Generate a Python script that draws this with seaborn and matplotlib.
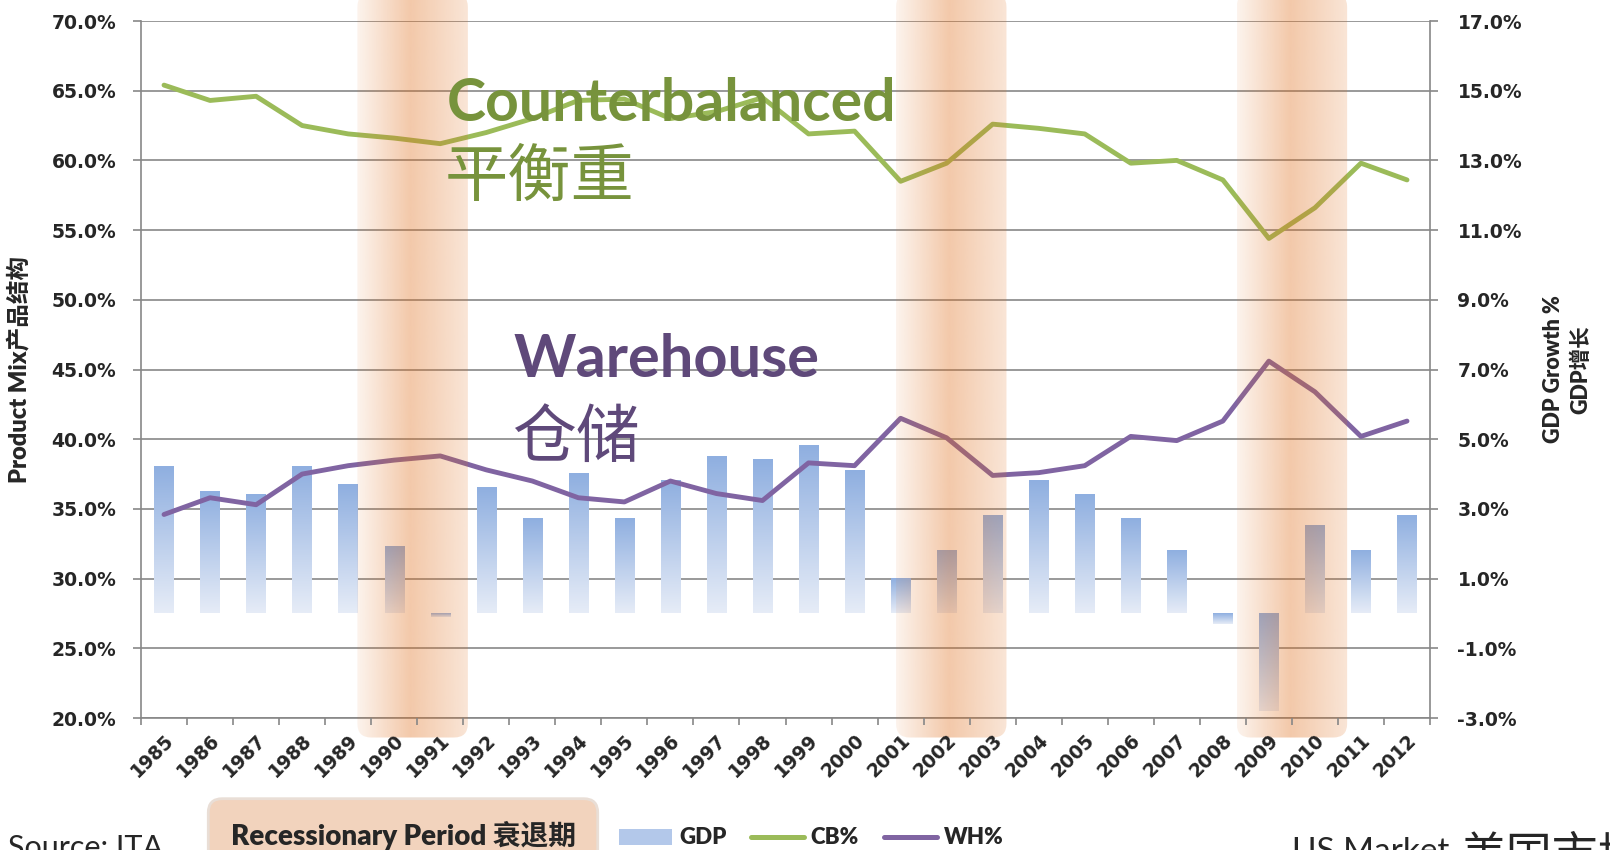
import numpy as np
import pandas as pd
import matplotlib
matplotlib.use("Agg")
import matplotlib.pyplot as plt
import seaborn as sns
from matplotlib.patches import FancyBboxPatch, Patch
from matplotlib.lines import Line2D
from matplotlib.colors import to_rgb

# values
years = list(range(1985, 2013))
cb_share = [65.4, 64.3, 64.6, 62.5, 61.9, 61.6, 61.2, 62.0, 63.0, 64.3, 64.4, 63.0, 63.5, 64.5,
            61.9, 62.1, 58.5, 59.8, 62.6, 62.3, 61.9, 59.8, 60.0, 58.6, 54.4, 56.6, 59.8, 58.6]
wh_share = [34.6, 35.8, 35.3, 37.5, 38.1, 38.5, 38.8, 37.8, 37.0, 35.8, 35.5, 37.0, 36.1, 35.6,
            38.3, 38.1, 41.5, 40.1, 37.4, 37.6, 38.1, 40.2, 39.9, 41.3, 45.6, 43.4, 40.2, 41.3]
gdp_growth = [4.2, 3.5, 3.4, 4.2, 3.7, 1.9, -0.1, 3.6, 2.7, 4.0, 2.7, 3.8, 4.5, 4.4,
              4.8, 4.1, 1.0, 1.8, 2.8, 3.8, 3.4, 2.7, 1.8, -0.3, -2.8, 2.5, 1.8, 2.8]
# recession shading (in years, as drawn)
rec_start = [1989.2, 2000.9, 2008.3]
rec_end = [1991.6, 2003.3, 2010.7]

left_ticks = np.arange(20, 71, 5)
right_ticks = np.arange(-3, 18, 2)

GREEN = "#9BBB59"
PURPLE = "#8064A2"
GRID = "#878787"
TEXT_GREEN = "#77933C"
TEXT_PURPLE = "#5F497A"

sns.set_style("white")
plt.rcParams["font.family"] = ["Lato", "Noto Sans CJK SC", "DejaVu Sans"]
TICK_FONT = dict(fontweight="bold", fontfamily="DejaVu Sans", fontsize=13.5)

df = pd.DataFrame({
    "year": [str(y) for y in years],
    "pos": np.arange(len(years)),
    "gdp": gdp_growth,
    "cb": cb_share,
    "wh": wh_share,
})

fig = plt.figure(figsize=(16.1, 8.5), dpi=100)
ax = fig.add_axes([141 / 1610, 1 - 718 / 850, (1430 - 141) / 1610, (718 - 21) / 850])
ax2 = ax.twinx()
ax.set_zorder(ax2.get_zorder() + 1)
ax.patch.set_visible(False)

# GDP bars on the right axis, then repainted with a vertical gradient
sns.barplot(data=df, x="year", y="gdp", ax=ax2, width=0.42, color="#95B3D7",
            saturation=1, errorbar=None)
top_rgb = np.array(to_rgb("#8FAFE0"))
bot_rgb = np.array(to_rgb("#E6ECF7"))
t = np.linspace(0, 1, 128)[:, None]
bar_grad = (top_rgb * (1 - t) + bot_rgb * t)[:, None, :]
for p in list(ax2.patches):
    x0, w = p.get_x(), p.get_width()
    y0, h = p.get_y(), p.get_height()
    lo, hi = min(y0, y0 + h), max(y0, y0 + h)
    ax2.imshow(bar_grad, extent=[x0, x0 + w, lo, hi], aspect="auto", origin="upper",
               zorder=2, interpolation="bilinear")
    p.set_visible(False)

# share lines on the left axis
sns.lineplot(data=df, x="pos", y="cb", ax=ax, color=GREEN, lw=3.5,
             solid_capstyle="round", solid_joinstyle="round", zorder=3)
sns.lineplot(data=df, x="pos", y="wh", ax=ax, color=PURPLE, lw=3.5,
             solid_capstyle="round", solid_joinstyle="round", zorder=3)

# recession bands laid over the chart
band_top, band_bottom = 72.0, 18.6
xs = np.linspace(0, 1, 256)
band_img = np.zeros((1, 256, 4))
band_img[..., :3] = to_rgb("#E0701E")
band_img[..., 3] = np.interp(xs, [0, 0.48, 1], [0.08, 0.38, 0.18])
for s, e in zip(rec_start, rec_end):
    x0, x1 = s - years[0], e - years[0]
    shape = FancyBboxPatch((x0, band_bottom), x1 - x0, band_top - band_bottom,
                           boxstyle="round,pad=0,rounding_size=0.3",
                           mutation_aspect=3.3, transform=ax.transData)
    im = ax.imshow(band_img, extent=[x0, x1, band_bottom, band_top], aspect="auto",
                   interpolation="bilinear", zorder=4, clip_path=shape)
    im.set_clip_box(fig.bbox)

# limits and ticks
ax.set_xlim(-0.5, len(years) - 0.5)
ax.set_ylim(20, 70)
ax2.set_ylim(-3, 17)

ax.set_yticks(left_ticks, labels=[f"{v:.1f}%" for v in left_ticks], **TICK_FONT)
ax2.set_yticks(right_ticks, labels=[f"{v:.1f}%" for v in right_ticks], **TICK_FONT)
ax.tick_params(axis="y", left=True, length=5.8, width=1.2, color=GRID, pad=12)
ax2.tick_params(axis="y", right=True, length=5.8, width=1.2, color=GRID, pad=14)

ax.set_xticks(df["pos"], labels=df["year"], rotation=45, ha="right", va="top",
              rotation_mode="anchor", **TICK_FONT)
ax.tick_params(axis="x", which="major", length=0, pad=9)
ax.set_xticks(np.arange(len(years) + 1) - 0.5, minor=True)
ax.tick_params(axis="x", which="minor", bottom=True, length=5, width=1.2, color=GRID)
ax.xaxis.set_zorder(7)

ax2.grid(axis="y", color=GRID, lw=1.2)
ax2.grid(axis="x", visible=False)
ax.grid(False)
ax2.set_axisbelow(True)

for sp in ["top", "right"]:
    ax.spines[sp].set_visible(False)
for sp in ["top", "left", "bottom"]:
    ax2.spines[sp].set_visible(False)
for spine in [ax.spines["left"], ax.spines["bottom"], ax2.spines["right"]]:
    spine.set_color(GRID)
    spine.set_linewidth(1.2)

ax.set_xlabel("")
ax2.set_xlabel("")
ax.set_ylabel("Product Mix产品结构", fontsize=17, fontweight="heavy")
ax.yaxis.set_label_coords(-0.0853, 0.5)
ax2.set_ylabel("GDP Growth %\nGDP增长", fontsize=15.5, fontweight="heavy", linespacing=1.35)
ax2.yaxis.set_label_coords(1.088, 0.5)

# series annotations
ax.text(6.14, 62.83, "Counterbalanced", color=TEXT_GREEN, fontsize=42.5,
        fontweight="bold", va="baseline", ha="left", zorder=6)
ax.text(6.1, 61.03, "平衡重", color=TEXT_GREEN, fontsize=45.5, va="top", ha="left",
        zorder=6, family=["Noto Sans CJK SC"])
ax.text(7.6, 44.46, "Warehouse", color=TEXT_PURPLE, fontsize=42.8,
        fontweight="bold", va="baseline", ha="left", zorder=6)
ax.text(7.57, 42.45, "仓储", color=TEXT_PURPLE, fontsize=46, va="top", ha="left",
        zorder=6, family=["Noto Sans CJK SC"])

# legend row at the bottom
handles = [Patch(facecolor="#B3C8EA", edgecolor="none"),
           Line2D([], [], color=GREEN, lw=3.6, solid_capstyle="round"),
           Line2D([], [], color=PURPLE, lw=3.6, solid_capstyle="round")]
fig.legend(handles, ["GDP", "CB%", "WH%"], loc="center left",
           bbox_to_anchor=(619 / 1610, 1 - 838 / 850), ncol=3, frameon=False,
           prop={"weight": "heavy", "size": 16}, handlelength=2.4, handleheight=0.7,
           handletextpad=0.3, columnspacing=1.1, borderpad=0, borderaxespad=0)

fig.text(403 / 1610, 1 - 845 / 850, "Recessionary Period 衰退期", ha="center",
         va="baseline", fontsize=20, fontweight="heavy",
         bbox=dict(boxstyle="round,pad=0.8,rounding_size=0.5", facecolor="#F2D3BD",
                   edgecolor="#E9DED6", linewidth=2))
fig.text(0.005, 1 - 834 / 850, "Source: ITA", fontsize=22, va="top", ha="left")
fig.text(1292 / 1610, 1 - 837 / 850, "US Market", fontsize=24, va="top", ha="left")
fig.text(1460 / 1610, 1 - 833 / 850, "美国市场", fontsize=33, va="top", ha="left",
         family=["Noto Sans CJK SC"])

fig.savefig("out.png", dpi=100)
